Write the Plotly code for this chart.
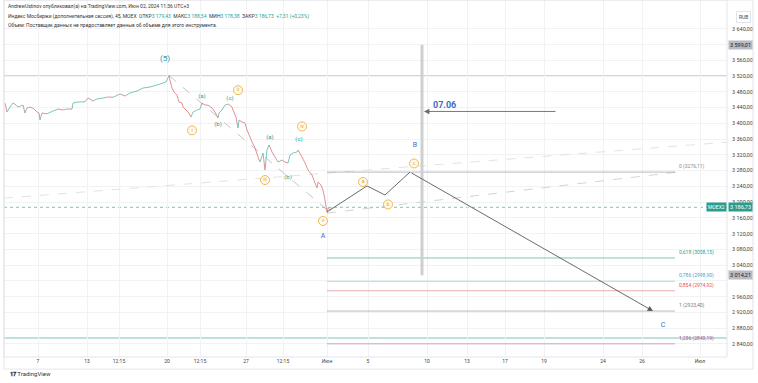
import plotly.graph_objects as go

# ---------------- data ----------------
# time scale (TradingView bar positions) and its labels
tick_pos = [38, 87, 119, 167, 200, 246, 283, 327, 368, 427, 467, 505, 544, 603, 642, 700]
tick_text = ["7", "13", "12:15", "20", "12:15", "27", "12:15", "Июн", "5", "10", "13", "17", "19", "24", "26", "Июл"]

# price ticks (3600 and 3000 are covered by badges)
price_ticks = [3640, 3600, 3560, 3520, 3480, 3440, 3400, 3360, 3320, 3280, 3240, 3200,
               3160, 3120, 3080, 3040, 3000, 2960, 2920, 2880, 2840]
hidden_ticks = [3600, 3000]

# IMOEX 45-min closes
bar_x = [5, 7, 10, 13, 16, 18, 23, 25, 27, 30, 33, 35, 37, 39, 40, 42, 47, 53, 58, 63, 67, 72, 73,
         78, 85, 88, 93, 97, 103, 108, 113, 120, 125, 130, 137, 143, 150, 157, 163, 166, 169,
         170, 172, 174, 177, 179, 182, 183, 186, 188, 191, 193, 197, 200, 202, 205, 208, 212,
         215, 218, 219, 222, 225, 228, 232, 233, 236, 238, 239, 242, 245, 247, 250, 252, 255,
         258, 260, 263, 265, 267, 269, 272, 275, 278, 282, 285, 288, 290, 293, 297, 298, 302,
         305, 308, 312, 315, 317, 318, 321, 323, 325, 327, 328, 330, 332]
close = [3451.5, 3428.6, 3441.3, 3451.5, 3446.4, 3441.3, 3446.4, 3426.1, 3438.8, 3441.3, 3438.0,
         3433.7, 3428.6, 3426.1, 3408.3, 3426.1, 3424.0, 3431.2, 3436.2, 3433.7, 3436.2, 3436.0,
         3451.5, 3454.0, 3454.5, 3464.2, 3456.6, 3461.6, 3464.2, 3466.7, 3466.0, 3474.3, 3469.2,
         3476.9, 3481.9, 3489.5, 3492.1, 3497.2, 3502.2, 3504.8, 3521.0,
         3509.8, 3489.5, 3479.4, 3471.8, 3454.0, 3451.5, 3441.3, 3433.7, 3428.6, 3415.9, 3428.6,
         3433.7, 3436.2, 3451.5, 3446.4, 3446.0, 3438.8, 3428.6, 3413.4, 3426.1, 3433.7, 3446.4,
         3448.9, 3441.3, 3433.7, 3415.9, 3388.0, 3408.3, 3403.3, 3400.7, 3382.9, 3365.2, 3352.5,
         3337.3, 3314.4, 3301.7, 3324.6, 3281.4, 3332.2, 3344.9, 3327.1, 3314.4, 3301.7, 3306.8,
         3301.7, 3299.2, 3319.5, 3324.6, 3327.1, 3332.2, 3314.4, 3299.2, 3281.4, 3268.7, 3248.4,
         3235.7, 3251.0, 3243.4, 3230.7, 3205.3, 3174.0, 3185.0, 3179.4, 3186.73]

last_price = 3186.73
level_high = 3520.0        # horizontal line through wave (5)
level_low = 2855.0         # lower horizontal line

# trend lines (bars, prices)
trend_upper = ([4, 727], [3210.0, 3352.0])
trend_wave = ([169, 330], [3521.0, 3174.0])
trend_base = ([327, 677], [3172.0, 3276.0])

# projected ABC path
proj_x = [327, 367, 385, 410]
proj_y = [3175.0, 3241.0, 3218.0, 3276.11]
proj_end = (653, 2923.40)

# fib extension
fib_x = [327, 675]
fib_ratio = ["0", "0,618", "0,786", "0,854", "1", "1,236"]
fib_price = [3276.11, 3058.15, 2998.90, 2974.92, 2923.40, 2840.19]
fib_line_color = ["#a4a7ae", "#5fb5a8", "#9ccfe3", "#e59a9a", "#a4a7ae", "#c98ac2"]
fib_text_color = ["#8a8d96", "#26a69a", "#4aa3d6", "#e05555", "#7a7d86", "#b0508f"]

# date marker
vline_x = 422
vline_y = [3014.21, 3599.01]
arrow_from = (557, 3430.0)
arrow_to = (424, 3430.0)
date_label = (444, 3447.0, "07.06")

# wave labels
paren_labels = ["(a)", "(b)", "(c)", "(a)", "(b)", "(c)"]
paren_x = [202, 218, 230, 270, 288, 299]
paren_y = [3469.0, 3398.0, 3464.0, 3365.0, 3262.0, 3360.0]
circ_labels = ["i", "ii", "iii", "iv", "v", "a", "b", "c"]
circ_x = [192, 238, 265, 302, 323, 363, 388, 414]
circ_y = [3382.0, 3484.0, 3256.0, 3392.0, 3152.0, 3251.0, 3194.0, 3298.0]
big_labels = ["A", "B", "C"]
big_x = [323, 415, 663]
big_y = [3113.0, 3344.0, 2888.0]
wave5 = (165, 3565.0, "(5)")

# ---------------- figure ----------------
fig = go.Figure()
FONT = "Roboto"
UP, DOWN = "#6cc0b5", "#e08585"

# price wiggle as up / down segments
ux, uy, dx, dy = [], [], [], []
for i in range(len(close) - 1):
    seg_x = [bar_x[i], bar_x[i + 1], None]
    seg_y = [close[i], close[i + 1], None]
    if close[i + 1] >= close[i]:
        ux += seg_x; uy += seg_y
    else:
        dx += seg_x; dy += seg_y

line_style = dict(mode="lines", hoverinfo="skip", showlegend=False)

# horizontal levels full width
shapes = []
for y, col, dash in [(level_high, "#a8a8a8", "solid"), (level_low, "#7cc3b9", "solid"),
                     (last_price, "#7cc3b9", "dot")]:
    shapes.append(dict(type="line", xref="paper", x0=0, x1=1, yref="y", y0=y, y1=y,
                       line=dict(color=col, width=1, dash=dash), layer="below"))

# trend lines
fig.add_trace(go.Scatter(x=trend_upper[0], y=trend_upper[1], line=dict(color="#e3e3e3", width=1, dash="dash"), **line_style))
fig.add_trace(go.Scatter(x=trend_wave[0], y=trend_wave[1], line=dict(color="#b5b5b5", width=0.8, dash="dash"), **line_style))
fig.add_trace(go.Scatter(x=trend_base[0], y=trend_base[1], line=dict(color="#c8c8c8", width=0.8, dash="dash"), **line_style))

# fib levels
for r, p, lc, tc in zip(fib_ratio, fib_price, fib_line_color, fib_text_color):
    fig.add_trace(go.Scatter(x=fib_x, y=[p, p], line=dict(color=lc, width=0.8), **line_style))
    fig.add_annotation(x=fib_x[1], y=p, xref="x", yref="y", text=f"{r} ({p:.2f})".replace(".", ","),
                       showarrow=False, xanchor="left", yanchor="bottom", xshift=2, yshift=0,
                       font=dict(family=FONT, size=5, color=tc))

# vertical date line
fig.add_trace(go.Scatter(x=[vline_x, vline_x], y=vline_y, line=dict(color="#cfcfcf", width=3), **line_style))

# price
fig.add_trace(go.Scatter(x=ux, y=uy, line=dict(color=UP, width=0.9), **line_style))
fig.add_trace(go.Scatter(x=dx, y=dy, line=dict(color=DOWN, width=0.9), **line_style))

# projection path
fig.add_trace(go.Scatter(x=proj_x, y=proj_y, line=dict(color="#5a5a5a", width=0.9), **line_style))
fig.add_annotation(x=proj_end[0], y=proj_end[1], ax=proj_x[-1], ay=proj_y[-1], xref="x", yref="y",
                   axref="x", ayref="y", showarrow=True, arrowhead=2, arrowsize=1.2, arrowwidth=0.9,
                   arrowcolor="#5a5a5a", text="")

# date arrow
fig.add_annotation(x=arrow_to[0], y=arrow_to[1], ax=arrow_from[0], ay=arrow_from[1], xref="x", yref="y",
                   axref="x", ayref="y", showarrow=True, arrowhead=2, arrowsize=1.2, arrowwidth=0.9,
                   arrowcolor="#6a6a6a", text="")
fig.add_annotation(x=date_label[0], y=date_label[1], text=f"<b>{date_label[2]}</b>", showarrow=False,
                   font=dict(family=FONT, size=9, color="#3d6cc4"))

# wave labels
fig.add_trace(go.Scatter(x=paren_x, y=paren_y, mode="text", text=paren_labels, hoverinfo="skip",
                         showlegend=False, textfont=dict(family=FONT, size=6, color="#22a093")))
fig.add_trace(go.Scatter(x=circ_x, y=circ_y, mode="markers+text", text=circ_labels, hoverinfo="skip",
                         showlegend=False, textposition="middle center",
                         marker=dict(size=9, color="#fffaf0", line=dict(color="#f2b84b", width=1)),
                         textfont=dict(family=FONT, size=5, color="#e0a030")))
fig.add_trace(go.Scatter(x=big_x, y=big_y, mode="text", text=big_labels, hoverinfo="skip",
                         showlegend=False, textfont=dict(family=FONT, size=7, color="#3d6cc4")))
fig.add_annotation(x=wave5[0], y=wave5[1], text=wave5[2], showarrow=False,
                   font=dict(family=FONT, size=8, color="#1f9bb0"))

# header
hdr = [
    (0.983, "AndrewUstinov опубликовал(а) на TradingView.com, Июн 02, 2024 11:36 UTC+3"),
    (0.955, "Индекс Мосбиржи (дополнительная сессия), 45, MOEX  ОТКР<span style='color:#26a69a'>3 179,43</span>"
            "  МАКС<span style='color:#26a69a'>3 188,54</span>  МИН<span style='color:#26a69a'>3 178,38</span>"
            "  ЗАКР<span style='color:#26a69a'>3 186,73</span>  <span style='color:#26a69a'>+7,31 (+0,23%)</span>"),
    (0.930, "Объем: Поставщик данных не предоставляет данные об объеме для этого инструмента."),
]
for y, t in hdr:
    fig.add_annotation(xref="paper", yref="paper", x=0.003, y=y, text=t, showarrow=False,
                       xanchor="left", yanchor="middle", font=dict(family=FONT, size=5, color="#333"))

# right-axis badges
def fmt(v):
    return f"{v:,.2f}".replace(",", " ").replace(".", ",")

for p, bg, fc in [(vline_y[1], "#b8bbc4", "#222"), (vline_y[0], "#b8bbc4", "#222"), (last_price, "#2a9d8f", "#fff")]:
    fig.add_annotation(xref="paper", yref="y", x=1.0015, y=p, text=fmt(p), showarrow=False,
                       xanchor="left", yanchor="middle", bgcolor=bg, borderpad=1,
                       font=dict(family=FONT, size=5.5, color=fc))
fig.add_annotation(xref="paper", yref="y", x=0.9995, y=last_price, text="MOEX2", showarrow=False,
                   xanchor="right", yanchor="middle", bgcolor="#2a9d8f", borderpad=1,
                   font=dict(family=FONT, size=5, color="#fff"))
fig.add_annotation(xref="paper", yref="paper", x=1.012, y=0.952, text="RUB", showarrow=False,
                   xanchor="left", yanchor="middle", bgcolor="#fff", bordercolor="#e0e3eb", borderwidth=1,
                   borderpad=2, font=dict(family=FONT, size=5, color="#444"))
fig.add_annotation(xref="paper", yref="paper", x=0.005, y=-0.045, text="<b>𝟏𝟕</b> TradingView", showarrow=False,
                   xanchor="left", yanchor="middle", font=dict(family=FONT, size=6, color="#333"))

# frames
shapes.append(dict(type="rect", xref="paper", yref="paper", x0=0, x1=1, y0=0, y1=1,
                   line=dict(color="#e3e5ea", width=1)))
shapes.append(dict(type="rect", xref="paper", yref="paper", x0=0, x1=1.036, y0=-0.034, y1=1,
                   line=dict(color="#e3e5ea", width=1)))

fig.update_layout(
    width=758, height=383,
    margin=dict(l=4, r=31, t=0, b=26),
    paper_bgcolor="white", plot_bgcolor="white",
    shapes=shapes,
    xaxis=dict(range=[4, 727], tickmode="array", tickvals=tick_pos, ticktext=tick_text,
               showgrid=True, gridcolor="#f1f2f4", gridwidth=1, zeroline=False, ticks="",
               tickfont=dict(family=FONT, size=5, color="#444"), fixedrange=True),
    yaxis=dict(range=[2806.8, 3712.9], side="right", tickmode="array", tickvals=price_ticks,
               ticktext=["" if v in hidden_ticks else fmt(v) for v in price_ticks],
               showgrid=True, gridcolor="#f1f2f4",
               zeroline=False, ticks="", ticklabelstandoff=4,
               tickfont=dict(family=FONT, size=5.5, color="#444"), fixedrange=True),
    showlegend=False,
)

fig.write_html("out.html", config={"displayModeBar": False},
               post_script="document.body.style.margin='0';document.body.style.overflow='hidden';")
